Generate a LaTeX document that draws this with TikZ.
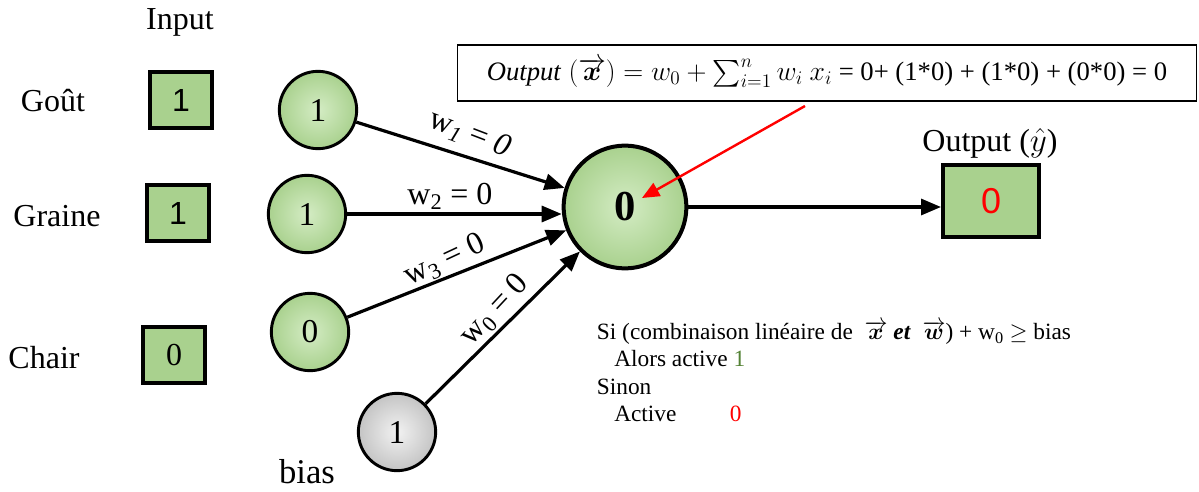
\documentclass[tikz,border=0pt]{standalone}
\usepackage{amsmath,amssymb}
\usepackage{fontspec}
\setmainfont{Liberation Serif}
\newfontfamily\arialfont{Liberation Sans}
\usetikzlibrary{arrows.meta}

\definecolor{cellgreen}{RGB}{169,209,142}
\definecolor{cellgreenlight}{RGB}{212,236,196}
\definecolor{biasgray}{RGB}{196,196,196}
\definecolor{biasgraylight}{RGB}{242,242,242}
\definecolor{activegreen}{RGB}{84,130,53}

\tikzset{
	bigfont/.style={font=\fontsize{24}{28}\selectfont},
	inbox/.style={draw, line width=3pt, fill=cellgreen, minimum width=46pt, minimum height=42pt, inner sep=0pt, bigfont},
	incircle/.style={circle, draw, line width=2.2pt, inner color=cellgreenlight, outer color=cellgreen, minimum size=58pt, inner sep=0pt, font=\fontsize{25}{28}\selectfont},
	biascircle/.style={incircle, inner color=biasgraylight, outer color=biasgray},
	neuroncircle/.style={circle, draw, line width=3pt, inner color=cellgreenlight, outer color=cellgreen, minimum size=92pt, inner sep=0pt, font=\fontsize{32}{36}\selectfont\bfseries},
	link/.style={line width=2.4pt, -{Triangle[length=15pt,width=12pt]}},
	redlink/.style={line width=1.8pt, red, -{Triangle[length=13pt,width=11pt]}},
	weightlbl/.style={bigfont, inner sep=1pt}
}
\tikzset{every picture/.style={line width=0.75pt}}

\begin{document}
\begin{tikzpicture}[x=0.75pt,y=0.75pt,yscale=-1,xscale=1]
	\useasboundingbox (0,0) rectangle (1199,492);

	% Text Node
	\draw (180,22) node [bigfont] (inputlbl) {Input};
	% Text Node
	\draw (53,101) node [bigfont] (goutlbl) {Goût};
	% Text Node
	\draw (57,216) node [bigfont] (grainelbl) {Graine};
	% Text Node
	\draw (44,358) node [bigfont] (chairlbl) {Chair};

	%Shape: Rectangle
	\draw (181,100) node [inbox, font=\arialfont\fontsize{24}{28}\selectfont] (box1) {1};
	%Shape: Rectangle
	\draw (178,213) node [inbox, font=\arialfont\fontsize{24}{28}\selectfont] (box2) {1};
	%Shape: Rectangle
	\draw (174,355) node [inbox] (box3) {0};

	%Shape: Circle
	\draw (318,110) node [incircle] (x1) {1};
	%Shape: Circle
	\draw (307,214) node [incircle] (x2) {1};
	%Shape: Circle
	\draw (310,332) node [incircle] (x3) {0};
	%Shape: Circle
	\draw (397,432) node [biascircle] (x0) {1};
	% Text Node
	\draw (307,472) node [font=\fontsize{26}{30}\selectfont] (biaslbl) {bias};

	%Shape: Circle
	\draw (625,207) node [neuroncircle] (neuron) {0};

	%Shape: Rectangle
	\draw (991,201) node [inbox, minimum width=72pt, minimum height=54pt, text=red, font=\arialfont\fontsize{27}{30}\selectfont] (outbox) {0};
	% Text Node
	\draw (990,143) node [bigfont, inner sep=1pt] (outlbl) {Output ($\hat{y}$)};

	%Shape: Rectangle
	\draw (827,73) node [draw, line width=0.8pt, minimum width=554pt, minimum height=42pt, font=\fontsize{20}{24}\selectfont] (formula)
		{$\mathit{Output}\;(\overrightarrow{\boldsymbol{x}}) = w_0 + \textstyle\sum_{i=1}^{n} w_i\ x_i$ = 0+ (1*0) + (1*0) + (0*0) = 0};

	% Arrows
	\draw [link] (x1) -- (neuron);
	\draw [link] (x2) -- (x2 -| neuron.west);
	\draw [link] (x3) -- (neuron);
	\draw [link] (x0) -- (neuron);
	\draw [link] (neuron.east) -- (neuron.east -| outbox.west);

	\coordinate (redtail) at (805,106);
	\coordinate (redhead) at (642,198);
	\draw [redlink] (redtail) -- (redhead);

	% Weight labels
	\draw (470,134) node [weightlbl, rotate=-21] (w1lbl) {w\textsubscript{\textit{1}} = \textit{0}};
	\draw (450,196) node [weightlbl] (w2lbl) {w\textsubscript{2} = 0};
	\draw (445,260) node [weightlbl, rotate=25] (w3lbl) {w\textsubscript{3} = 0};
	\draw (495,310) node [weightlbl, rotate=47] (w0lbl) {w\textsubscript{0} = 0};

	% Text Node
	\draw (592,316) node [anchor=north west, align=left, font=\fontsize{17.5}{20.5}\selectfont] (rule)
		{Si (combinaison linéaire de\ \ $\overrightarrow{\boldsymbol{x}}$\ \textbf{\textit{et}}\ \ $\overrightarrow{\boldsymbol{w}}$) + w\textsubscript{0} $\geq$ bias\\
		\hspace{13pt}Alors active \textcolor{activegreen}{1}\\
		Sinon\\
		\hspace{13pt}Active\hspace{40pt}\textcolor{red}{0}};

\end{tikzpicture}
\end{document}
